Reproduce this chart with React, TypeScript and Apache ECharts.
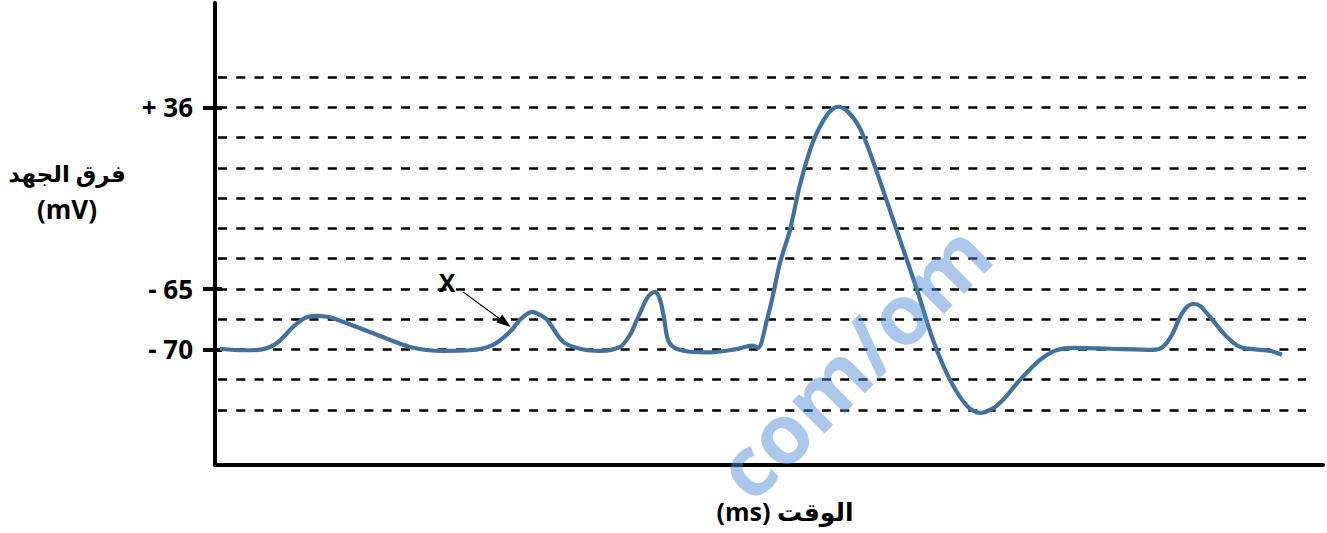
import React, { useEffect, useRef } from "react";
import * as echarts from "echarts";

// Grid levels: each dashed line is one level step (level 0 = lowest dashed line)
const gridLevels = [0, 1, 2, 3, 4, 5, 6, 7, 8, 9, 10, 11];
const yTickLevels = [2, 4, 10];
const yTickLabels = ["- 70", "- 65", "+ 36"];

// time (arbitrary units) and membrane potential (in grid levels)
const timeValues = [
  0.5, 3.0, 4.7, 6.2, 7.8, 9.0, 10.2, 11.5, 12.8, 16.2, 19.5, 22.8, 25.5, 27.8, 29.5, 30.6,
  31.7, 32.5, 33.2, 34.8, 36.5, 38.5, 40.5, 41.5, 42.2, 43.3, 44.0, 44.5, 44.9, 45.3, 46.0,
  47.5, 49.5, 52.0, 53.8, 54.3, 55.2, 55.8, 56.5, 57.5, 58.5, 59.8, 61.2, 62.3, 63.3, 64.3,
  65.2, 66.8, 68.5, 70.2, 71.8, 73.5, 75.2, 76.5, 77.7, 78.8, 80.5, 82.5, 84.2, 86.0, 89.5,
  93.8, 94.8, 95.7, 96.5, 97.1, 97.8, 98.5, 99.5, 101.2, 102.5, 104.0, 105.5, 106.7,
];
const potentialValues = [
  2.02, 1.97, 2.0, 2.21, 2.74, 3.04, 3.11, 3.06, 2.91, 2.48, 2.08, 1.95, 1.97, 2.15, 2.58, 3.01,
  3.24, 3.14, 2.98, 2.25, 2.02, 1.95, 2.08, 2.48, 2.98, 3.74, 3.9, 3.64, 3.04, 2.31, 2.05,
  1.92, 1.9, 2.0, 2.12, 2.05, 2.98, 3.8, 4.86, 5.95, 7.44, 8.86, 9.75, 10.02, 9.85, 9.42,
  8.76, 7.27, 5.62, 3.97, 2.31, 0.99, 0.13, -0.1, 0.03, 0.33, 0.99, 1.65, 1.98, 2.05, 2.02,
  1.98, 2.08, 2.48, 3.07, 3.37, 3.5, 3.44, 3.07, 2.41, 2.08, 2.0, 1.95, 1.82,
];

const dashStart = 0.3;
const dashEnd = 109.1;
const arrowFrom = [24.8, 3.9];
const arrowTo = [29.0, 2.88];
const xLabelPos = [23.2, 4.22];

const yAxisTitle = "فرق الجهد";
const yAxisUnit = "(mV)";
const xAxisTitle = "(ms) الوقت";
const watermark = "com/om";

const FONT = "'Open Sans', 'DejaVu Sans', sans-serif";

export default function App() {
  const ref = useRef<HTMLDivElement>(null);

  useEffect(() => {
    if (!ref.current) return;
    const chart = echarts.init(ref.current, null, { renderer: "svg" });
    const data = timeValues.map((t, i) => [t, potentialValues[i]]);

    const option: any = {
      animation: false,
      backgroundColor: "#ffffff",
      grid: { left: 215, right: 4, top: 3, height: 461.3 },
      xAxis: {
        type: "value",
        min: 0,
        max: 110.8,
        axisLine: { show: true, onZero: false, lineStyle: { color: "#000", width: 4 } },
        axisTick: { show: false },
        axisLabel: { show: false },
        splitLine: { show: false },
      },
      yAxis: [
        {
          type: "value",
          min: -1.8,
          max: 13.45,
          axisLine: { show: true, onZero: false, lineStyle: { color: "#000", width: 4 } },
          axisTick: {
            show: true,
            customValues: yTickLevels,
            length: 12,
            lineStyle: { color: "#000", width: 4 },
          },
          axisLabel: {
            show: true,
            customValues: yTickLevels,
            margin: 22,
            formatter: (v: number) => {
              const i = yTickLevels.indexOf(Math.round(v));
              return i >= 0 ? yTickLabels[i] : "";
            },
            color: "#000",
            fontSize: 26,
            fontWeight: "bold",
            fontFamily: FONT,
          },
          splitLine: { show: false },
        },
        {
          type: "value",
          min: -1.8,
          max: 13.45,
          position: "left",
          axisLine: { show: false },
          axisTick: {
            show: true,
            inside: true,
            customValues: yTickLevels,
            length: 7,
            lineStyle: { color: "#000", width: 4 },
          },
          axisLabel: { show: false },
          splitLine: { show: false },
        },
      ],
      series: [
        {
          type: "line",
          name: "dash",
          data: [],
          silent: true,
          markLine: {
            silent: true,
            symbol: ["none", "none"],
            label: { show: false },
            lineStyle: { color: "#000", width: 2.6, type: [9, 9.3] },
            data: gridLevels.map((lv) => [
              { coord: [dashStart, lv] },
              { coord: [dashEnd, lv] },
            ]),
          },
        },
        {
          type: "line",
          name: "potential",
          data,
          smooth: 0.3,
          showSymbol: false,
          lineStyle: { color: "#41729f", width: 4.2 },
          z: 5,
          markLine: {
            silent: true,
            symbol: ["none", "triangle"],
            symbolSize: [10, 14],
            label: { show: false },
            lineStyle: { color: "#000", width: 1.2, type: "solid" },
            data: [[{ coord: arrowFrom }, { coord: arrowTo }]],
          },
          markPoint: {
            symbol: "circle",
            symbolSize: 0,
            label: {
              show: true,
              formatter: "X",
              color: "#000",
              fontSize: 25,
              fontWeight: "bold",
              fontFamily: FONT,
            },
            data: [{ coord: xLabelPos }],
          },
        },
      ],
      graphic: [
        {
          type: "text",
          x: 67,
          y: 173,
          style: {
            text: yAxisTitle,
            fill: "#000",
            font: `bold 23px ${FONT}`,
            textAlign: "center",
            textVerticalAlign: "middle",
          },
        },
        {
          type: "text",
          x: 67,
          y: 209,
          style: {
            text: yAxisUnit,
            fill: "#000",
            font: `bold 26px ${FONT}`,
            textAlign: "center",
            textVerticalAlign: "middle",
          },
        },
        {
          type: "text",
          x: 785,
          y: 511,
          style: {
            text: xAxisTitle,
            fill: "#000",
            font: `bold 25px ${FONT}`,
            textAlign: "center",
            textVerticalAlign: "middle",
          },
        },
        {
          type: "text",
          x: 852,
          y: 360,
          rotation: (45 * Math.PI) / 180,
          z: 100,
          style: {
            text: watermark,
            fill: "rgba(80,140,215,0.48)",
            font: `bold 84px ${FONT}`,
            textAlign: "center",
            textVerticalAlign: "middle",
          },
        },
      ],
    };

    chart.setOption(option);
    return () => chart.dispose();
  }, []);

  return (
    <div
      ref={ref}
      style={{ position: "fixed", left: 0, top: 0, width: 1327, height: 533 }}
    />
  );
}
